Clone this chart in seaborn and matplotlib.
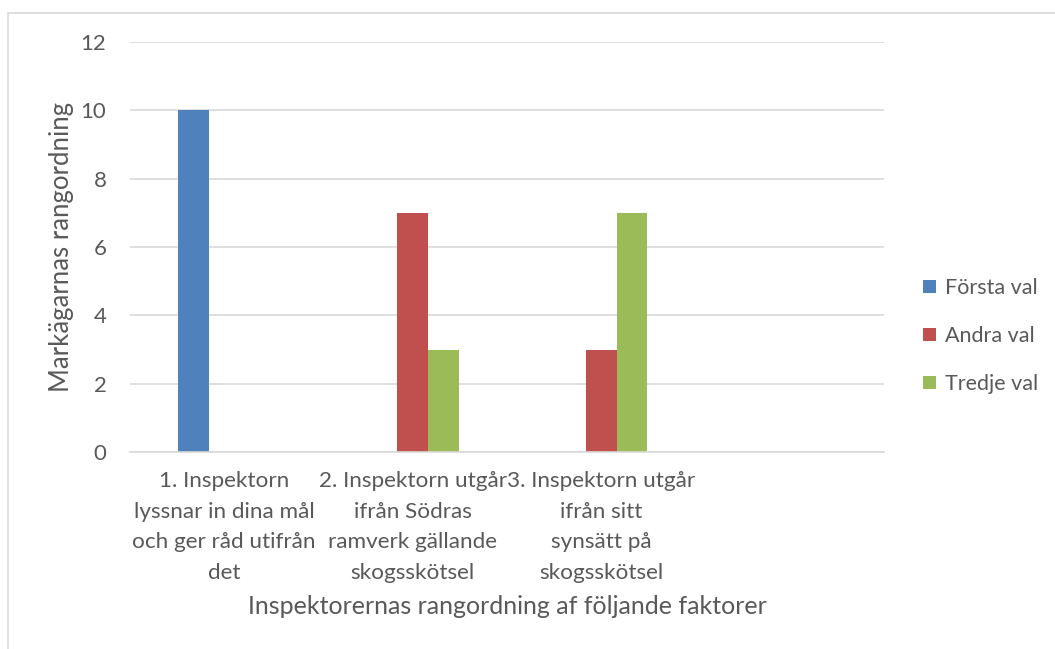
import matplotlib
matplotlib.use("Agg")
import matplotlib.pyplot as plt
from matplotlib.patches import Rectangle
import pandas as pd
import seaborn as sns

# Ranking factors (fourth slot is an empty category on the axis)
categories = [
    "1. Inspektorn\nlyssnar in dina mål\noch ger råd utifrån\ndet",
    "2. Inspektorn utgår\nifrån Södras\nramverk gällande\nskogsskötsel",
    "3. Inspektorn utgår\nifrån sitt\nsynsätt på\nskogsskötsel",
    " ",
]
series = ["Första val", "Andra val", "Tredje val"]
forsta_val = [10, 0, 0, 0]
andra_val = [0, 7, 3, 0]
tredje_val = [0, 3, 7, 0]
y_ticks = [0, 2, 4, 6, 8, 10, 12]

colors = ["#4F81BD", "#C0504D", "#9BBB59"]
text_gray = "#595959"
grid_gray = "#D9D9D9"

rows = []
for name, vals in zip(series, [forsta_val, andra_val, tredje_val]):
    for cat, v in zip(categories, vals):
        rows.append({"kategori": cat, "serie": name, "värde": v})
df = pd.DataFrame(rows)

sns.set_theme(style="white")
plt.rcParams["font.family"] = ["Lato", "DejaVu Sans"]

fig = plt.figure(figsize=(10.55, 6.49), dpi=100)
ax = fig.add_axes([130 / 1055, 1 - 452 / 649, (884 - 130) / 1055, (452 - 42) / 649])

sns.barplot(
    data=df, x="kategori", y="värde", hue="serie",
    order=categories, hue_order=series, palette=colors,
    width=0.49, dodge=True, errorbar=None, saturation=1,
    linewidth=0, ax=ax,
)

ax.set_ylim(0, 12)
ax.set_xlim(-0.5, len(categories) - 0.5)
ax.set_yticks(y_ticks)
ax.set_yticklabels([str(t) for t in y_ticks], fontsize=16, color=text_gray)
ax.tick_params(axis="y", length=0, pad=17)
ax.set_xticks(range(len(categories)))
ax.set_xticklabels(categories, fontsize=16.2, color=text_gray,
                   multialignment="center")
ax.tick_params(axis="x", length=0, pad=14)

ax.yaxis.grid(True, color=grid_gray, linewidth=1.2)
ax.xaxis.grid(False)
ax.set_axisbelow(True)
for side in ["left", "right", "top"]:
    ax.spines[side].set_visible(False)
ax.spines["bottom"].set_color(grid_gray)
ax.spines["bottom"].set_linewidth(1.2)

ax.set_ylabel("Markägarnas rangordning", fontsize=18.5, color=text_gray, labelpad=5)
ax.set_xlabel("Inspektorernas rangordning af följande faktorer", fontsize=18,
              color=text_gray, labelpad=9)

leg = ax.legend(
    loc="center left", bbox_to_anchor=(923 / 1055, 1 - 336 / 649),
    bbox_transform=fig.transFigure, frameon=False, fontsize=15.5,
    handlelength=0.6, handleheight=0.6, handletextpad=0.4, labelspacing=1.3,
    borderaxespad=0, borderpad=0,
)
for t in leg.get_texts():
    t.set_color(text_gray)

# Outer chart border
fig.patches.append(Rectangle((8 / 1055, -0.2), 1.5, 1.2 - 13 / 649,
                             transform=fig.transFigure, fill=False,
                             edgecolor=grid_gray, linewidth=1.2, zorder=0))

# Tick labels are created at draw time; set their line spacing afterwards
fig.canvas.draw()
for tick in ax.xaxis.get_major_ticks():
    tick.label1.set_linespacing(1.65)

fig.savefig("out.png", dpi=100)
